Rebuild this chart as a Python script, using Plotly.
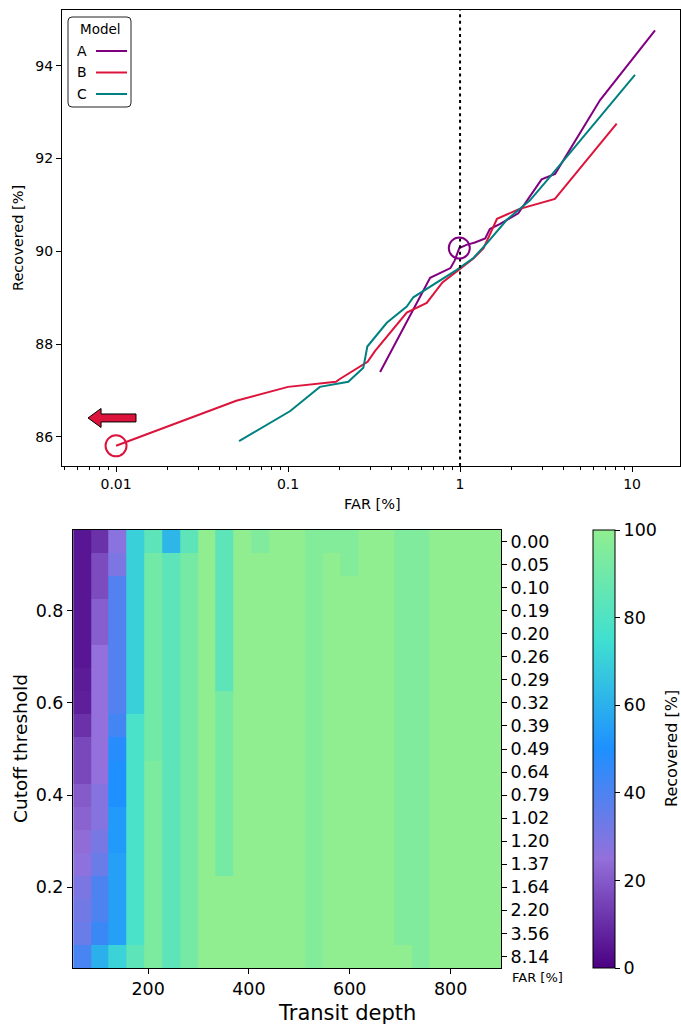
import numpy as np
import plotly.graph_objects as go

W, H = 681, 1025

# ---------------- data: top panel ----------------
models = ["A", "B", "C"]
colors = {"A": "#800080", "B": "#DC143C", "C": "#008080"}

far_A = [0.343, 0.67, 0.88, 0.93, 0.99, 1.09, 1.22, 1.40, 1.49, 1.71, 2.18, 2.98, 3.57, 6.52, 13.6]
rec_A = [87.40, 89.43, 89.64, 89.80, 90.07, 90.14, 90.19, 90.28, 90.48, 90.59, 90.82, 91.55, 91.67, 93.26, 94.76]

far_B = [0.01, 0.05, 0.10, 0.19, 0.20, 0.26, 0.29, 0.32, 0.39, 0.49, 0.64, 0.79, 1.02, 1.20, 1.37, 1.64, 2.20, 3.56, 8.14]
rec_B = [85.81, 86.78, 87.08, 87.19, 87.25, 87.52, 87.62, 87.85, 88.23, 88.68, 88.89, 89.33, 89.65, 89.85, 90.07, 90.70, 90.91, 91.13, 92.75]

far_C = [0.0519, 0.103, 0.153, 0.224, 0.274, 0.289, 0.375, 0.49, 0.535, 0.67, 0.957, 1.19, 1.43, 1.87, 2.55, 3.36, 10.4]
rec_C = [85.91, 86.56, 87.08, 87.19, 87.49, 87.95, 88.46, 88.81, 89.01, 89.24, 89.60, 89.85, 90.17, 90.68, 91.10, 91.62, 93.80]

series = {"A": (far_A, rec_A), "B": (far_B, rec_B), "C": (far_C, rec_C)}
highlight_A_index = 4   # circled point of model A
highlight_B_index = 0   # circled (off-scale) point of model B

# ---------------- data: heatmap ----------------
depths = [69, 104, 139, 175, 210, 246, 281, 316, 352, 387, 422, 458,
          493, 529, 564, 599, 635, 670, 705, 741, 776, 812, 847, 882]
thresholds = [0.05, 0.10, 0.15, 0.20, 0.25, 0.30, 0.35, 0.40, 0.45, 0.50,
              0.55, 0.60, 0.65, 0.70, 0.75, 0.80, 0.85, 0.90, 0.95]
# FAR labels, listed from the lowest threshold (0.05) to the highest (0.95)
far_labels = ["8.14", "3.56", "2.20", "1.64", "1.37", "1.20", "1.02", "0.79", "0.64", "0.49",
              "0.39", "0.32", "0.29", "0.26", "0.20", "0.19", "0.10", "0.05", "0.00"]

# recovered [%] per depth column, listed from threshold 0.95 (top) down to 0.05 (bottom)
col_00 = [5, 5, 5, 5, 5, 5, 6, 7, 11, 16, 16, 20, 22, 24, 26, 30, 32, 34, 41]
col_01 = [11, 17, 17, 21, 21, 25, 25, 25, 25, 25, 25, 28, 28, 31, 34, 40, 40, 44, 60]
col_02 = [27, 30, 39, 39, 39, 39, 39, 39, 42, 48, 50, 50, 53, 53, 55, 55, 55, 55, 71]
col_03 = [70, 70, 70, 70, 70, 70, 70, 70, 78, 78, 78, 78, 78, 78, 78, 78, 78, 78, 84]
col_04 = [84, 91, 91, 91, 91, 91, 91, 91, 91, 91, 94, 94, 94, 94, 94, 94, 94, 94, 94]
col_05 = [62, 84, 84, 84, 84, 84, 84, 84, 84, 84, 84, 84, 84, 84, 84, 84, 84, 84, 84]
col_06 = [84, 92, 92, 92, 92, 92, 92, 92, 92, 92, 92, 92, 92, 92, 92, 92, 92, 92, 92]
col_07 = [100] * 19
col_08 = [84, 84, 84, 84, 84, 84, 84, 92, 92, 92, 92, 92, 92, 92, 92, 100, 100, 100, 100]
col_09 = [100] * 19
col_10 = [95] + [100] * 18
col_11 = [100] * 19
col_12 = [100] * 19
col_13 = [96] * 19
col_14 = [96] + [100] * 18
col_15 = [96, 96] + [100] * 17
col_16 = [100] * 19
col_17 = [100] * 19
col_18 = [95] * 18 + [100]
col_19 = [95] * 19
col_20 = [100] * 19
col_21 = [100] * 19
col_22 = [100] * 19
col_23 = [100] * 19
columns = [col_00, col_01, col_02, col_03, col_04, col_05, col_06, col_07, col_08, col_09,
           col_10, col_11, col_12, col_13, col_14, col_15, col_16, col_17, col_18, col_19,
           col_20, col_21, col_22, col_23]
z = np.array(columns).T[::-1]  # rows ordered by ascending threshold

colorscale = [[0.0, "#4B0082"], [0.25, "#9370DB"], [0.5, "#1E90FF"],
              [0.75, "#40E0D0"], [1.0, "#90EE90"]]

FONT = "DejaVu Sans"
HM_TICK = 17.5


def px(x):
    return x / W


def py(y):
    return 1 - y / H


fig = go.Figure()

# ---- top panel lines ----
for m in models:
    fx, ry = series[m]
    fig.add_trace(go.Scatter(x=fx, y=ry, mode="lines", name=m,
                             line=dict(color=colors[m], width=2),
                             xaxis="x", yaxis="y", showlegend=False, hoverinfo="skip"))

# dotted vertical line at FAR = 1 %
y_top_range = [85.375, 95.2]
fig.add_trace(go.Scatter(x=[1, 1], y=y_top_range, mode="lines",
                         line=dict(color="black", width=2, dash="3px,3.6px"),
                         xaxis="x", yaxis="y", showlegend=False, hoverinfo="skip"))

# highlight circles
fig.add_trace(go.Scatter(x=[far_A[highlight_A_index]], y=[rec_A[highlight_A_index]], mode="markers",
                         marker=dict(symbol="circle-open", size=21, color=colors["A"],
                                     line=dict(width=2, color=colors["A"])),
                         xaxis="x", yaxis="y", showlegend=False, hoverinfo="skip"))
fig.add_trace(go.Scatter(x=[far_B[highlight_B_index]], y=[rec_B[highlight_B_index]], mode="markers",
                         marker=dict(symbol="circle-open", size=21, color=colors["B"],
                                     line=dict(width=2, color=colors["B"])),
                         xaxis="x", yaxis="y", showlegend=False, hoverinfo="skip"))

# left-pointing block arrow (off-scale indicator) near the circled B point
f0, r0 = far_B[highlight_B_index], rec_B[highlight_B_index]
tip, neck, tail = f0 * 0.687, f0 * 0.818, f0 * 1.306
yc, bh, hh = r0 + 0.60, 0.086, 0.205
ax_x = [tip, neck, neck, tail, tail, neck, neck, tip]
ax_y = [yc, yc + hh, yc + bh, yc + bh, yc - bh, yc - bh, yc - hh, yc]
fig.add_trace(go.Scatter(x=ax_x, y=ax_y, mode="lines", fill="toself",
                         fillcolor=colors["B"], line=dict(color="black", width=1),
                         xaxis="x", yaxis="y", showlegend=False, hoverinfo="skip"))

# ---- heatmap ----
fig.add_trace(go.Heatmap(
    x=depths, y=thresholds, z=z, zmin=0, zmax=100, colorscale=colorscale,
    xaxis="x2", yaxis="y2", hoverinfo="skip",
    colorbar=dict(x=px(593), xanchor="left", xpad=0, ypad=0,
                  y=py(749), yanchor="middle", len=438 / H, lenmode="fraction",
                  thickness=22, thicknessmode="pixels",
                  outlinewidth=1, outlinecolor="black",
                  ticks="outside", ticklen=5, tickwidth=1, tickcolor="black",
                  tickvals=[0, 20, 40, 60, 80, 100],
                  tickfont=dict(size=HM_TICK, color="black", family=FONT)),
))
# invisible trace to carry the right-hand FAR axis
fig.add_trace(go.Scatter(x=[depths[0]], y=[thresholds[0]], mode="markers",
                         marker=dict(opacity=0), xaxis="x2", yaxis="y3",
                         showlegend=False, hoverinfo="skip"))

axis_common = dict(showline=True, linecolor="black", linewidth=1, mirror=True,
                   ticks="outside", tickcolor="black", tickwidth=1, showgrid=False,
                   zeroline=False, automargin=False)

minor_vals = [m * 10.0 ** e for e in range(-3, 2) for m in range(2, 10)]

fig.update_layout(
    width=W, height=H, margin=dict(l=0, r=0, t=0, b=0),
    paper_bgcolor="white", plot_bgcolor="white",
    font=dict(family=FONT, color="black"),
    showlegend=False,
    xaxis=dict(axis_common, type="log", domain=[px(62), px(680)], anchor="y",
               range=[np.log10(0.00485), np.log10(19.0)],
               tickmode="array", tickvals=[0.01, 0.1, 1, 10], ticktext=["0.01", "0.1", "1", "10"],
               ticklen=5, tickfont=dict(size=14),
               minor=dict(ticks="outside", ticklen=3, tickcolor="black", tickwidth=1,
                          tickmode="array", tickvals=minor_vals, showgrid=False)),
    yaxis=dict(axis_common, domain=[py(466), py(10)], anchor="x",
               range=y_top_range, tickmode="array", tickvals=[86, 88, 90, 92, 94],
               ticklen=5, tickfont=dict(size=14)),
    xaxis2=dict(axis_common, domain=[px(73), px(501)], anchor="y2",
                range=[51, 900], tickmode="array", tickvals=[200, 400, 600, 800],
                ticklen=5, tickfont=dict(size=HM_TICK)),
    yaxis2=dict(axis_common, domain=[py(968), py(530)], anchor="x2",
                range=[0.025, 0.975], tickmode="array", tickvals=[0.2, 0.4, 0.6, 0.8],
                ticklen=5, tickfont=dict(size=HM_TICK)),
    yaxis3=dict(axis_common, overlaying="y2", side="right", anchor="x2",
                range=[0.025, 0.975], tickmode="array", tickvals=thresholds,
                ticktext=far_labels, ticklen=5, tickfont=dict(size=HM_TICK)),
)

annotations = [
    dict(text="FAR [%]", x=px(372), y=py(504), font=dict(size=14.5)),
    dict(text="Recovered [%]", x=px(18), y=py(238), textangle=-90, font=dict(size=14.5)),
    dict(text="Transit depth", x=px(347), y=py(1013), font=dict(size=21)),
    dict(text="Cutoff threshold", x=px(20), y=py(749), textangle=-90, font=dict(size=18.5)),
    dict(text="FAR [%]", x=px(537), y=py(977), font=dict(size=13)),
    dict(text="Recovered [%]", x=px(671), y=py(749), textangle=-90, font=dict(size=16)),
    dict(text="Model", x=px(100), y=py(29), font=dict(size=13.5)),
]
for a in annotations:
    a.update(xref="paper", yref="paper", showarrow=False, xanchor="center", yanchor="middle")

# custom legend (label before line, matplotlib style)
shapes = []
x0, x1, y0, y1, r = 68, 131, 17, 107, 4
rx, ry = r / W, r / H
path = (f"M {px(x0)+rx},{py(y0)} L {px(x1)-rx},{py(y0)} Q {px(x1)},{py(y0)} {px(x1)},{py(y0)-ry} "
        f"L {px(x1)},{py(y1)+ry} Q {px(x1)},{py(y1)} {px(x1)-rx},{py(y1)} "
        f"L {px(x0)+rx},{py(y1)} Q {px(x0)},{py(y1)} {px(x0)},{py(y1)+ry} "
        f"L {px(x0)},{py(y0)-ry} Q {px(x0)},{py(y0)} {px(x0)+rx},{py(y0)} Z")
shapes.append(dict(type="path", path=path, xref="paper", yref="paper",
                   line=dict(color="#222222", width=1), fillcolor="rgba(255,255,255,0.85)"))
for i, m in enumerate(models):
    yy = 51 + 21.5 * i
    shapes.append(dict(type="line", xref="paper", yref="paper",
                       x0=px(96), x1=px(127), y0=py(yy), y1=py(yy),
                       line=dict(color=colors[m], width=2)))
    annotations.append(dict(text=m, x=px(75), y=py(yy), xref="paper", yref="paper",
                            showarrow=False, xanchor="left", yanchor="middle",
                            font=dict(size=14)))

fig.update_layout(annotations=annotations, shapes=shapes)
fig.write_html("out.html")
